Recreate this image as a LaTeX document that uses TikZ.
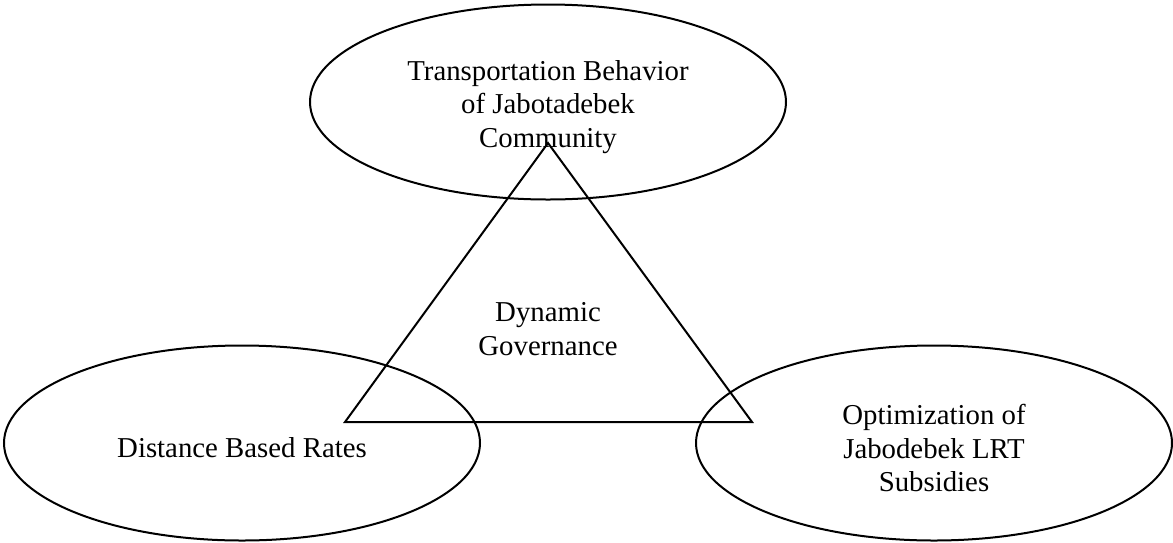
\documentclass[tikz,border=0pt]{standalone}
\usepackage{fontspec}
\setmainfont{Liberation Serif}
\usetikzlibrary{positioning,shapes.geometric,calc}
\tikzset{
  txt/.style  ={align=center, inner sep=0pt, font=\fontsize{14.4}{16.6}\selectfont},
  oval/.style ={draw, ellipse, line width=1pt, minimum width=238pt, minimum height=97.5pt},
  side/.style ={draw, line width=1pt, line join=miter},
}
\begin{document}
\begin{tikzpicture}[x=0.5pt,y=-0.5pt]
  \useasboundingbox (0,0) rectangle (1173,542);
  % texts
  \node[txt](gov)  at (548,329){Dynamic\\Governance};
  \node[txt](beh)  at (548,107){Transportation Behavior\\of Jabotadebek\\Community};
  \node[txt](rate) at (242,448){Distance Based Rates};
  \node[txt](sub)  at (934,448){Optimization of\\Jabodebek LRT\\Subsidies};
  % the three ovals round the centre
  \node[oval](behO)  at ([yshift=2.5pt]beh)  {};
  \node[oval](rateO) at ([yshift=2.5pt]rate) {};
  \node[oval](subO)  at ([yshift=2.5pt]sub)  {};
  % triangle
  \coordinate (apex) at (548,143);
  \coordinate (bl)   at (345,422);
  \coordinate (br)   at (752,422);
  \draw[side] (apex) -- (bl) -- (br) -- cycle;
\end{tikzpicture}
\end{document}
